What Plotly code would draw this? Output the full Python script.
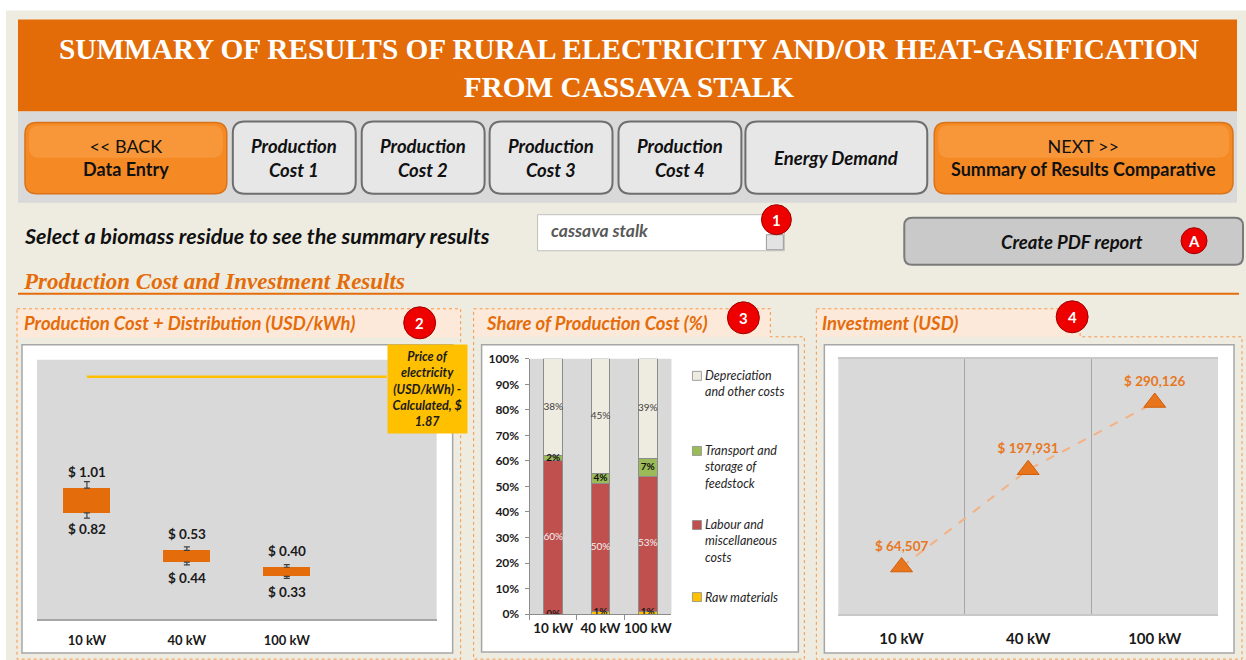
import plotly.graph_objects as go

# Positions below are given in target-picture pixels; the photographing step maps page
# rows as  y_pic = SY * y_page + DY,  so Y() undoes that.
W, H = 1246, 668
SY, DY = 0.9766, 8.5

# ---------------- data ----------------
sizes = ["10 kW", "40 kW", "100 kW"]
cost_high = [1.01, 0.53, 0.40]
cost_low = [0.82, 0.44, 0.33]
price_electricity = 1.87
price_line = [1.87, 1.87, 1.87, 1.87]

share_names = ["Raw materials", "Labour and miscellaneous costs",
               "Transport and storage of feedstock", "Depreciation and other costs"]
share_legend = ["Raw materials", "Labour and<br>miscellaneous<br>costs",
                "Transport and<br>storage of<br>feedstock", "Depreciation<br>and other costs"]
raw_materials = [0, 1, 1]
labour_misc = [60, 50, 53]
transport_storage = [2, 4, 7]
depreciation_other = [38, 45, 39]

investment = [64507, 197931, 290126]

title_text = "SUMMARY OF RESULTS OF RURAL ELECTRICITY AND/OR HEAT-GASIFICATION<br>FROM CASSAVA STALK"
biomass = "cassava stalk"

# ---------------- style ----------------
SANS = "Lato"
SERIF = "Liberation Serif"
ORANGE = "#E46C0A"
BEIGE = "#EEECE1"
PEACH = "#FDE9D9"
GRAYBG = "#D9D9D9"
share_colors = ["#FFC000", "#C0504D", "#9BBB59", "#EEECE1"]

shapes = []
annotations = []


def X(x):
    return x / W


def Y(y):
    return 1 - ((y - DY) / SY) / H


def rect(x0, y0, x1, y1, fill, line=None, lw=0, dash="solid"):
    shapes.append(dict(type="rect", xref="paper", yref="paper",
                       x0=X(x0), x1=X(x1), y0=Y(y1), y1=Y(y0),
                       fillcolor=fill, line=dict(color=line or "rgba(0,0,0,0)", width=lw, dash=dash),
                       layer="below"))


def rrect(x0, y0, x1, y1, r, fill, line, lw):
    rx, ry = r / W, r / H
    a, b, c, d = X(x0), X(x1), Y(y0), Y(y1)
    path = (f"M {a+rx},{c} L {b-rx},{c} Q {b},{c} {b},{c-ry} L {b},{d+ry} Q {b},{d} {b-rx},{d} "
            f"L {a+rx},{d} Q {a},{d} {a},{d+ry} L {a},{c-ry} Q {a},{c} {a+rx},{c} Z")
    shapes.append(dict(type="path", xref="paper", yref="paper", path=path,
                       fillcolor=fill, line=dict(color=line, width=lw), layer="below"))


def poly(pts, line, lw, dash, fill="rgba(0,0,0,0)"):
    path = "M " + " L ".join(f"{X(a)},{Y(b)}" for a, b in pts) + " Z"
    shapes.append(dict(type="path", xref="paper", yref="paper", path=path,
                       fillcolor=fill, line=dict(color=line, width=lw, dash=dash), layer="below"))


def text(x, y, s, size, color="#000000", family=SANS, xanchor="center", yanchor="middle", align="center"):
    annotations.append(dict(xref="paper", yref="paper", x=X(x), y=Y(y), text=s, showarrow=False,
                            font=dict(size=size, color=color, family=family),
                            xanchor=xanchor, yanchor=yanchor, align=align))


def badge(cx, cy, r, label):
    shapes.append(dict(type="circle", xref="paper", yref="paper",
                       x0=X(cx - r), x1=X(cx + r), y0=Y(cy + r), y1=Y(cy - r),
                       fillcolor="#EE0000", line=dict(color="#A00000", width=1), layer="below"))
    text(cx, cy, f"<b>{label}</b>", 15, "white")


# ---------------- page frame ----------------
rect(6, 11, 1250, 672, BEIGE)
rect(18, 20, 1238, 112, "#E36C09")
text(630, 68, f"<b>{title_text}</b>", 29.3, "white", SERIF)
rect(18, 112, 1238, 203, GRAYBG)

# nav buttons
nav = [
    (25, 227, "<< BACK<br><b>Data Entry</b>", "orange"),
    (233, 356, "<b><i>Production<br>Cost 1</i></b>", "gray"),
    (362, 485, "<b><i>Production<br>Cost 2</i></b>", "gray"),
    (490, 613, "<b><i>Production<br>Cost 3</i></b>", "gray"),
    (619, 742, "<b><i>Production<br>Cost 4</i></b>", "gray"),
    (746, 928, "<b><i>Energy Demand</i></b>", "gray"),
    (935, 1234, "NEXT >><br><b>Summary of Results Comparative</b>", "orange"),
]
for x0, x1, lab, kind in nav:
    if kind == "orange":
        rrect(x0, 123, x1, 194, 12, "#F58A25", "#D9731A", 1.5)
        rrect(x0 + 4, 126, x1 - 4, 158, 10, "rgba(255,200,130,0.22)", "rgba(0,0,0,0)", 0)
        text((x0 + x1) / 2, 158, lab, 18, "#111111")
    else:
        rrect(x0, 122, x1, 194, 12, "#E7E7E7", "#6E6E6E", 2)
        text((x0 + x1) / 2, 158, lab, 18.5, "#111111")

# select row
text(22, 236, "<b><i>Select a biomass residue to see the summary results</i></b>", 21.5, "#111111",
     xanchor="left")
rect(538, 215, 785, 251, "white", "#BFBFBF", 1)
rect(767, 235, 784, 250, "#E3E3E3", "#9A9A9A", 1)
text(549, 231, f"<b><i>{biomass}</i></b>", 17.5, "#595959", xanchor="left")
badge(777, 220, 15, "1")

rrect(905, 218, 1244, 265, 8, "#C9C9C9", "#7A7A7A", 2)
text(1073, 242, "<b><i>Create PDF report</i></b>", 18.5, "#111111")
badge(1195, 241, 13, "A")

text(21, 282, "<b><i>Production Cost and Investment Results</i></b>", 23, ORANGE, SERIF, xanchor="left")
shapes.append(dict(type="line", xref="paper", yref="paper", x0=X(18), x1=X(1240), y0=Y(294), y1=Y(294),
                   line=dict(color=ORANGE, width=2), layer="below"))

# panels
DASH = "#F79646"
rect(17, 309, 461, 338, PEACH)
poly([(17, 309), (461, 309), (461, 659), (17, 659)], DASH, 1, "dot")
rect(22, 345, 453, 653, "white", "#A6A6A6", 1.5)
rect(37, 360, 437, 619, GRAYBG)
text(22, 323, "<b><i>Production Cost + Distribution (USD/kWh)</i></b>", 18.5, ORANGE, xanchor="left")
badge(420, 323, 16, "2")

rect(474, 309, 771, 337, PEACH)
poly([(474, 309), (771, 309), (771, 337), (805, 337), (805, 659), (474, 659)], DASH, 1, "dot")
rect(482, 345, 799, 652, "white", "#A6A6A6", 1.5)
rect(530, 359, 672, 614, GRAYBG)
text(484, 323, "<b><i>Share of Production Cost (%)</i></b>", 18.5, ORANGE, xanchor="left")
badge(744, 318, 16, "3")

rect(817, 309, 1081, 337, PEACH)
poly([(817, 309), (1081, 309), (1081, 337), (1243, 337), (1243, 659), (817, 659)], DASH, 1, "dot")
rect(825, 345, 1235, 653, "white", "#A6A6A6", 1.5)
rect(839, 359, 1219, 614, GRAYBG)
text(821, 323, "<b><i>Investment (USD)</i></b>", 18.5, ORANGE, xanchor="left")
badge(1073, 317, 16, "4")

# ---------------- traces ----------------
cats1 = sizes + [" "]
fig = go.Figure()

# chart 1: production cost + distribution
fig.add_trace(go.Bar(x=sizes, base=cost_low, y=[h - l for h, l in zip(cost_high, cost_low)],
                     width=0.47, marker=dict(color=ORANGE, line=dict(width=0)),
                     xaxis="x", yaxis="y", showlegend=False, hoverinfo="skip"))
fig.add_trace(go.Scatter(x=sizes, y=cost_high, mode="markers",
                         marker=dict(size=1, color="rgba(0,0,0,0)"),
                         error_y=dict(type="percent", symmetric=False, value=5, valueminus=0,
                                      color="#404040", thickness=1.2, width=3),
                         xaxis="x", yaxis="y", showlegend=False, hoverinfo="skip"))
fig.add_trace(go.Scatter(x=sizes, y=cost_low, mode="markers",
                         marker=dict(size=1, color="rgba(0,0,0,0)"),
                         error_y=dict(type="percent", symmetric=False, value=0, valueminus=5,
                                      color="#404040", thickness=1.2, width=3),
                         xaxis="x", yaxis="y", showlegend=False, hoverinfo="skip"))
fig.add_trace(go.Scatter(x=cats1, y=price_line, mode="lines", line=dict(color="#FFC000", width=2.5),
                         xaxis="x", yaxis="y", showlegend=False, hoverinfo="skip"))
for xc, h, l in zip(sizes, cost_high, cost_low):
    annotations.append(dict(xref="x", yref="y", x=xc, y=h, yshift=6, text=f"<b>$ {h:.2f}</b>",
                            showarrow=False, yanchor="bottom",
                            font=dict(size=13.5, color="#1a1a1a", family=SANS)))
    annotations.append(dict(xref="x", yref="y", x=xc, y=l, yshift=-6, text=f"<b>$ {l:.2f}</b>",
                            showarrow=False, yanchor="top",
                            font=dict(size=13.5, color="#1a1a1a", family=SANS)))
annotations.append(dict(xref="paper", yref="paper", x=X(387.5), y=Y(389),
                        text=f"<b><i>Price of<br>electricity<br>(USD/kWh) -<br>Calculated, $<br>{price_electricity:.2f}</i></b>",
                        showarrow=False, bgcolor="#FFC000", width=77, height=86,
                        font=dict(size=12.5, color="#1a1a1a", family=SANS)))

# chart 2: share of production cost
series = [raw_materials, labour_misc, transport_storage, depreciation_other]
label_fonts = [dict(size=10, color="#1a1a1a", weight="bold"),
               dict(size=10, color="#F2F2F2"),
               dict(size=10, color="#111111", weight="bold"),
               dict(size=10, color="#404040")]
cum = [0, 0, 0]
for name, vals, col, lf in zip(share_names, series, share_colors, label_fonts):
    fig.add_trace(go.Bar(x=sizes, y=vals, name=name, width=0.4,
                         marker=dict(color=col, line=dict(color="#8C8C8C", width=1)),
                         xaxis="x2", yaxis="y2", showlegend=False, hoverinfo="skip"))
    mids = [c + v / 2 for c, v in zip(cum, vals)]
    fig.add_trace(go.Scatter(x=sizes, y=mids, mode="text", text=[f"{v}%" for v in vals],
                             textfont=dict(family=SANS, **lf), textposition="middle center",
                             xaxis="x2", yaxis="y2", showlegend=False, hoverinfo="skip"))
    cum = [c + v for c, v in zip(cum, vals)]

# legend for chart 2 (top to bottom)
leg_y = [376, 451, 525, 597]
for name, col, yy in zip(share_legend[::-1], share_colors[::-1], leg_y):
    rect(693, yy - 4.5, 702, yy + 4.5, col, "#8C8C8C", 0.8)
    text(704, yy - 9.5, f"<i>{name}</i>", 12.5, "#262626", xanchor="left", yanchor="top", align="left")

# chart 3: investment
fig.add_trace(go.Scatter(x=sizes, y=investment, mode="lines+markers+text",
                         text=[f"$ {v:,}" for v in investment], textposition="top center",
                         textfont=dict(family=SANS, size=13.5, color="#E8771E", weight="bold"),
                         line=dict(color="#F4B183", width=2, dash="dash"),
                         marker=dict(symbol="triangle-up", size=19, color="#E8741C",
                                     line=dict(color="#D0600A", width=1)),
                         xaxis="x3", yaxis="y3", showlegend=False, hoverinfo="skip"))

tickbold = lambda s: dict(size=s, color="#1a1a1a", family=SANS, weight="bold")

fig.update_layout(
    width=W, height=H, margin=dict(l=0, r=0, t=0, b=0),
    paper_bgcolor="white", plot_bgcolor=GRAYBG,
    barmode="stack", showlegend=False,
    shapes=shapes, annotations=annotations,
    xaxis=dict(domain=[X(37), X(437)], anchor="y", type="category",
               categoryorder="array", categoryarray=cats1, range=[-0.5, 3.5],
               showline=True, linecolor="#A6A6A6", linewidth=1.5, showgrid=False, ticks="",
               tickfont=tickbold(13), ticklabelstandoff=9, fixedrange=True),
    yaxis=dict(domain=[Y(619), Y(360)], anchor="x", range=[0, 2], visible=False, fixedrange=True),
    xaxis2=dict(domain=[X(530), X(672)], anchor="y2", type="category",
                categoryorder="array", categoryarray=sizes, range=[-0.5, 2.5],
                showline=True, linecolor="#8C8C8C", linewidth=1, showgrid=False,
                ticks="outside", tickson="boundaries", ticklen=5, tickcolor="#8C8C8C", tickangle=0,
                tickfont=tickbold(13.5), ticklabelstandoff=2, fixedrange=True),
    yaxis2=dict(domain=[Y(614), Y(359)], anchor="x2", range=[0, 100], dtick=10, ticksuffix="%",
                showline=True, linecolor="#8C8C8C", linewidth=1, showgrid=False, zeroline=False,
                ticks="outside", ticklen=4, tickcolor="#8C8C8C",
                tickfont=tickbold(12), ticklabelstandoff=3, fixedrange=True),
    xaxis3=dict(domain=[X(839), X(1219)], anchor="y3", type="category",
                categoryorder="array", categoryarray=sizes, range=[-0.5, 2.5],
                showline=True, mirror=True, linecolor="#C8C8C8", linewidth=1.5,
                showgrid=True, gridcolor="#A6A6A6", gridwidth=1, tickson="boundaries", ticks="",
                tickfont=tickbold(15), ticklabelstandoff=10, fixedrange=True),
    yaxis3=dict(domain=[Y(614), Y(359)], anchor="x3", range=[0, 350000], visible=False, fixedrange=True),
)

fix_page = ("document.documentElement.style.margin='0';document.body.style.margin='0';"
            "document.documentElement.style.overflow='hidden';document.body.style.overflow='hidden';")
fig.write_html("out.html", config={"displayModeBar": False}, post_script=fix_page)
